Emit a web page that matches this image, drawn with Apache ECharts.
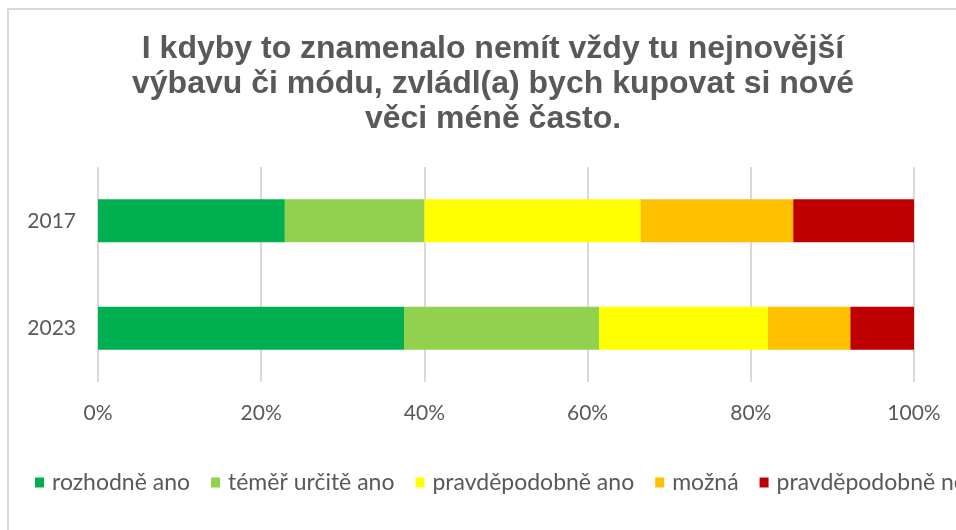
<!DOCTYPE html>
<html>
<head>
<meta charset="utf-8">
<script src="https://cdn.jsdelivr.net/npm/echarts@6/dist/echarts.min.js"></script>
<style>
    html, body {
        margin: 0;
        padding: 0;
        width: 956px;
        height: 530px;
        overflow: hidden;
        background: #ffffff;
    }
    /* rámeček grafu, vpravo a dole je oříznutý */
    .frame {
        position: absolute;
        left: 7px;
        top: 8px;
        width: 1000px;
        height: 560px;
        border-left: 2px solid #d9d9d9;
        border-top: 2px solid #d9d9d9;
    }
    #chart {
        position: absolute;
        left: 0;
        top: 0;
        width: 968px;
        height: 530px;
    }
</style>
</head>
<body>
<div class="frame">
    <div id="chart"></div>
</div>
<script>
    // roky
    const years = ['2017', '2023']
    // odpovědi (v %)
    const rozhodneAno = [22.9, 37.5]
    const temerUrciteAno = [17.1, 23.9]
    const pravdepodobneAno = [26.5, 20.7]
    const mozna = [18.7, 10.1]
    const pravdepodobneNe = [14.8, 7.8]
    const xTicks = [0, 20, 40, 60, 80, 100]

    const seriesNames = ['rozhodně ano', 'téměř určitě ano', 'pravděpodobně ano', 'možná', 'pravděpodobně ne']
    const seriesData = [rozhodneAno, temerUrciteAno, pravdepodobneAno, mozna, pravdepodobneNe]
    const colors = ['#00b050', '#92d050', '#ffff00', '#ffc000', '#c00000']

    const chartInstance = echarts.init(document.getElementById('chart'))

    const option = {
        color: colors,
        title: {
            text: 'I kdyby to znamenalo nemít vždy tu nejnovější\nvýbavu či módu, zvládl(a) bych kupovat si nové\nvěci méně často.',
            left: 'center',
            top: 17,
            textStyle: {
                fontFamily: 'Liberation Sans',
                fontSize: 32,
                fontWeight: 'bold',
                color: '#595959',
                lineHeight: 35
            }
        },
        legend: {
            data: seriesNames,
            left: 26,
            top: 461,
            padding: 0,
            itemWidth: 9,
            itemHeight: 10,
            itemGap: 21,
            icon: 'rect',
            textStyle: {
                fontFamily: 'Lato',
                fontSize: 23,
                color: '#595959',
                padding: [0, 0, 0, 3]
            }
        },
        grid: {
            left: 89,
            right: 63,
            top: 157,
            height: 215,
            containLabel: false
        },
        xAxis: {
            type: 'value',
            min: xTicks[0],
            max: xTicks[xTicks.length - 1],
            interval: 20,
            axisLine: { show: false },
            axisTick: { show: false },
            splitLine: {
                show: true,
                lineStyle: { color: '#d9d9d9', width: 2 }
            },
            axisLabel: {
                margin: 21,
                formatter: '{value}%',
                fontFamily: 'Lato',
                fontSize: 21,
                color: '#595959'
            }
        },
        yAxis: {
            type: 'category',
            inverse: true,
            data: years,
            axisLine: { show: false },
            axisTick: { show: false },
            axisLabel: {
                margin: 22,
                fontFamily: 'Lato',
                fontSize: 21,
                color: '#595959'
            }
        },
        series: seriesNames.map((name, i) => {
            return {
                name: name,
                type: 'bar',
                stack: 'total',
                barWidth: '40%',
                data: seriesData[i]
            }
        })
    }
    chartInstance.setOption(option)
</script>
</body>
</html>
